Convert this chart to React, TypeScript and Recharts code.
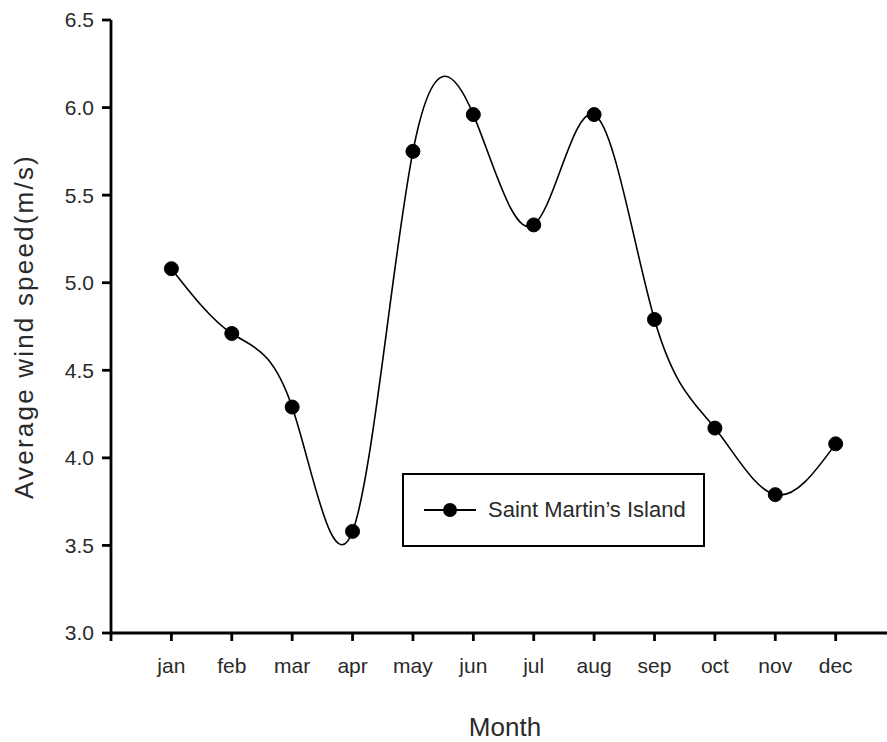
import { LineChart, Line, XAxis, YAxis } from 'recharts';

const months = ['jan', 'feb', 'mar', 'apr', 'may', 'jun', 'jul', 'aug', 'sep', 'oct', 'nov', 'dec'];
const windSpeed = [5.08, 4.71, 4.29, 3.58, 5.75, 5.96, 5.33, 5.96, 4.79, 4.17, 3.79, 4.08];
const yTicks = [3.0, 3.5, 4.0, 4.5, 5.0, 5.5, 6.0, 6.5];
const xTicks = [0, 1, 2, 3, 4, 5, 6, 7, 8, 9, 10, 11, 12];

const data = months.map((m, i) => ({ idx: i + 1, month: m, speed: windSpeed[i] }));

const font = '"Liberation Sans", Arial, sans-serif';
const textColor = '#2a2a2a';

export default function App() {
  return (
    <div style={{ position: 'absolute', top: 0, left: 0, width: 887, height: 742, background: '#fff', fontFamily: font, overflow: 'hidden' }}>
      <LineChart width={887} height={742} data={data} margin={{ top: 20, right: 0, bottom: 69, left: 41 }}>
        <XAxis
          dataKey="idx"
          type="number"
          domain={[0, 12.85]}
          ticks={xTicks}
          tickFormatter={(v: number) => (v >= 1 ? months[v - 1] : '')}
          stroke="#000"
          strokeWidth={2.8}
          tickSize={8}
          tickMargin={17}
          height={40}
          tick={{ fill: textColor, fontSize: 21, fontFamily: font }}
        />
        <XAxis
          xAxisId="top"
          orientation="top"
          dataKey="idx"
          type="number"
          domain={[0, 12.85]}
          tick={false}
          tickLine={false}
          stroke="#000"
          strokeWidth={2.8}
          height={0}
        />
        <YAxis
          type="number"
          domain={[3, 6.5]}
          ticks={yTicks}
          tickFormatter={(v: number) => v.toFixed(1)}
          stroke="#000"
          strokeWidth={2.8}
          tickSize={9}
          tickMargin={8}
          width={70}
          tick={{ fill: textColor, fontSize: 21, fontFamily: font }}
          label={{
            value: 'Average wind speed(m/s)',
            angle: -90,
            position: 'insideLeft',
            offset: -17,
            style: { textAnchor: 'middle', fill: textColor, fontSize: 26, letterSpacing: 2.2, fontFamily: font },
          }}
        />
        <Line
          type="natural"
          dataKey="speed"
          stroke="#000"
          strokeWidth={1.6}
          dot={{ r: 7, fill: '#000', stroke: '#000', strokeWidth: 1 }}
          activeDot={false}
          isAnimationActive={false}
        />
      </LineChart>
      <div style={{ position: 'absolute', left: 0, width: 1010, top: 712, textAlign: 'center', fontSize: 26, color: textColor }}>
        Month
      </div>
      <div
        style={{
          position: 'absolute',
          left: 402,
          top: 473,
          width: 299,
          height: 70,
          border: '2px solid #000',
          display: 'flex',
          alignItems: 'center',
          fontSize: 22,
          color: textColor,
        }}
      >
        <svg width={66} height={20} style={{ marginLeft: 18 }}>
          <line x1={2} y1={10} x2={54} y2={10} stroke="#000" strokeWidth={2} />
          <circle cx={28} cy={10} r={7} fill="#000" />
        </svg>
        <span>Saint Martin’s Island</span>
      </div>
    </div>
  );
}
